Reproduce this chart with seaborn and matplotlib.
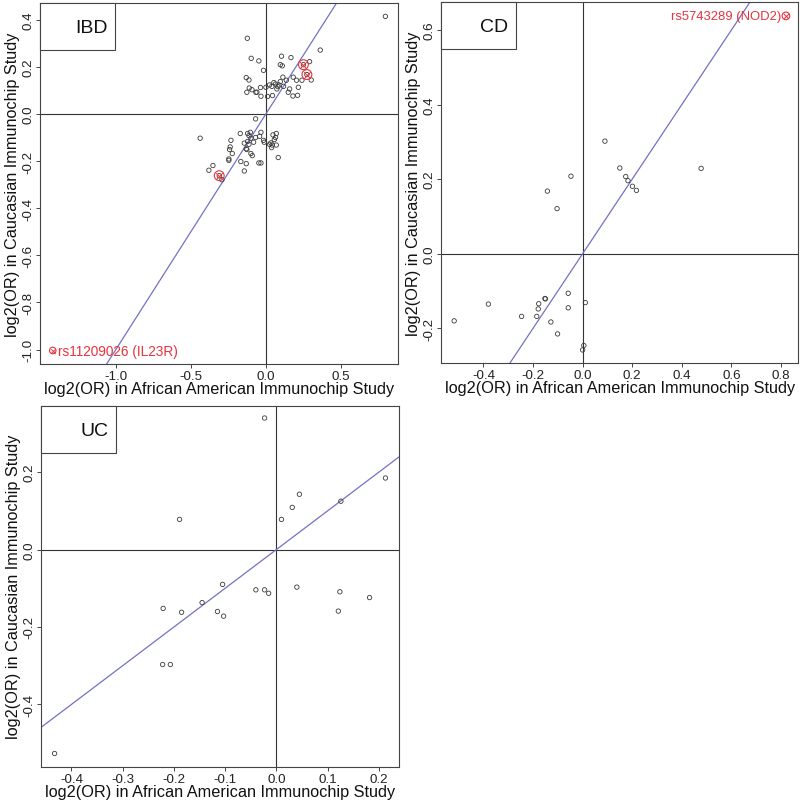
import matplotlib
matplotlib.use("Agg")
import matplotlib.pyplot as plt
from matplotlib.patches import Rectangle
import seaborn as sns
import pandas as pd

# IBD panel data (log2 OR, African American vs Caucasian)
ibd_x = [0.796, -0.124, 0.362, -0.098, -0.047, 0.104, 0.167, 0.291, 0.096, 0.109,
         -0.016, -0.131, -0.113, 0.182, 0.113, 0.204, 0.240, 0.302, 0.136, 0.096,
         0.053, 0.064, 0.024, 0.087, 0.080, 0.040, 0.000, -0.036, -0.111, -0.093,
         -0.127, -0.067, -0.060, 0.149, 0.158, 0.216, 0.044, 0.011, -0.033, 0.180,
         0.211, 0.073, 0.118, 0.250, 0.273,
         -0.438, -0.069, -0.171, -0.122, -0.104, -0.113, -0.100, -0.122, -0.144, -0.113,
         -0.069, -0.042, -0.033, -0.016, -0.011, 0.047, 0.069, 0.064, 0.056, 0.033,
         0.042, 0.038, 0.024, 0.069, 0.082, -0.233, -0.238, -0.242, -0.224, -0.247,
         -0.247, -0.167, -0.131, -0.144, -0.100, -0.091, -0.127, -0.047, -0.033, -0.353,
         -0.380, -0.293, -0.131, -0.082, -0.311]
ibd_y = [0.414, 0.321, 0.271, 0.236, 0.225, 0.245, 0.239, 0.222, 0.209, 0.204,
         0.185, 0.154, 0.144, 0.156, 0.156, 0.143, 0.143, 0.144, 0.143, 0.137,
         0.133, 0.127, 0.123, 0.123, 0.116, 0.117, 0.113, 0.112, 0.110, 0.103,
         0.092, 0.092, 0.092, 0.092, 0.106, 0.113, 0.078, 0.074, 0.075, 0.076,
         0.079, 0.106, 0.117, 0.209, 0.167,
         -0.103, -0.021, -0.083, -0.083, -0.078, -0.092, -0.103, -0.117, -0.124, -0.129,
         -0.100, -0.095, -0.078, -0.112, -0.120, -0.089, -0.083, -0.100, -0.109, -0.123,
         -0.132, -0.143, -0.129, -0.132, -0.185, -0.112, -0.140, -0.151, -0.168, -0.191,
         -0.197, -0.202, -0.211, -0.242, -0.168, -0.177, -0.151, -0.208, -0.208, -0.219,
         -0.239, -0.279, -0.148, -0.120, -0.262]
ibd_hl_x = [0.250, 0.273, -0.311]
ibd_hl_y = [0.209, 0.167, -0.262]
ibd_lab_x, ibd_lab_y, ibd_lab = -1.42, -1.004, "rs11209026 (IL23R)"

# CD panel data
cd_x = [0.090, 0.150, 0.478, 0.174, 0.183, 0.201, 0.217, -0.047, -0.142, -0.103,
        -0.518, -0.380, -0.246, -0.185, -0.179, -0.177, -0.152, -0.150, -0.128, -0.101,
        -0.058, -0.058, 0.011, 0.005, 0.000]
cd_y = [0.302, 0.230, 0.229, 0.207, 0.196, 0.181, 0.170, 0.208, 0.168, 0.121,
        -0.180, -0.135, -0.168, -0.168, -0.148, -0.134, -0.120, -0.121, -0.183, -0.215,
        -0.106, -0.145, -0.131, -0.246, -0.258]
cd_lab_x, cd_lab_y, cd_lab = 0.820, 0.638, "rs5743289 (NOD2)"

# UC panel data
uc_x = [-0.023, 0.213, 0.045, 0.031, 0.126, 0.010, -0.189, -0.105, -0.040, -0.023,
        -0.015, 0.040, 0.124, 0.182, 0.121, -0.145, -0.185, -0.221, -0.115, -0.103,
        -0.222, -0.207, -0.433]
uc_y = [0.340, 0.185, 0.143, 0.109, 0.125, 0.078, 0.078, -0.090, -0.104, -0.104,
        -0.113, -0.097, -0.109, -0.124, -0.159, -0.137, -0.162, -0.152, -0.160, -0.172,
        -0.297, -0.297, -0.527]

xlabel = "log2(OR) in African American Immunochip Study"
ylabel = "log2(OR) in Caucasian Immunochip Study"

sns.set_theme(style="ticks")
plt.rcParams["font.family"] = ["Liberation Sans", "DejaVu Sans"]
plt.rcParams["axes.unicode_minus"] = False

RED = "#e8323c"
LINE = "#7272c4"
EDGE = "#3a3a3a"

fig = plt.figure(figsize=(8, 8.03), dpi=100)


def panel(rect, x, y, name, xlim, ylim, xticks, yticks):
    ax = fig.add_axes(rect)
    df = pd.DataFrame({"x": x, "y": y})
    sns.scatterplot(data=df, x="x", y="y", ax=ax, marker="o", s=10,
                    facecolor="none", edgecolor=EDGE, linewidth=0.6, zorder=3)
    ax.axhline(0, color="#333333", lw=0.8, zorder=1)
    ax.axvline(0, color="#333333", lw=0.8, zorder=1)
    ax.axline((0, 0), slope=1, color=LINE, lw=0.9, zorder=2)
    ax.set_xlim(*xlim)
    ax.set_ylim(*ylim)
    ax.set_xticks(xticks)
    ax.set_xticklabels([f"{t:.1f}" for t in xticks])
    ax.set_yticks(yticks)
    ax.set_yticklabels([f"{t:.1f}" for t in yticks], rotation=90, va="center")
    ax.tick_params(length=3, width=0.7, pad=1.2, labelsize=9.6,
                   colors="#444444", labelcolor="#222222")
    for sp in ax.spines.values():
        sp.set_visible(True)
        sp.set_color("#444444")
        sp.set_linewidth(0.8)
    ax.set_xlabel(xlabel, fontsize=11.7, labelpad=-0.5, color="#111111")
    ax.set_ylabel(ylabel, fontsize=11.7, labelpad=1.5, color="#111111")
    # panel label box in the top-left corner
    ax.add_patch(Rectangle((0, 1 - 0.130), 0.210, 0.130, transform=ax.transAxes,
                           facecolor="white", edgecolor="#444444", lw=0.8,
                           clip_on=False, zorder=4))
    ax.text(0.188, 1 - 0.068, name, transform=ax.transAxes, ha="right",
            va="center", fontsize=14, color="#111111", zorder=5)
    return ax


def circle_x(ax, x, y, size):
    ax.scatter(x, y, s=size, marker="o", facecolor="none", edgecolor=RED,
               linewidth=0.8, zorder=4)
    ax.scatter(x, y, s=size * 0.45, marker="x", color=RED, linewidth=0.7, zorder=4)


ax1 = panel([0.050, 0.5455, 0.4475, 0.4496], ibd_x, ibd_y, "IBD",
            (-1.505, 0.88), (-1.061, 0.471),
            [-1.0, -0.5, 0.0, 0.5], [-1.0, -0.8, -0.6, -0.4, -0.2, 0.0, 0.2, 0.4])
circle_x(ax1, ibd_hl_x, ibd_hl_y, 50)
circle_x(ax1, [ibd_lab_x], [ibd_lab_y], 22)
ax1.text(ibd_lab_x + 0.035, ibd_lab_y, ibd_lab, color=RED, fontsize=9.8,
         ha="left", va="center", zorder=5)

ax2 = panel([0.5516, 0.5467, 0.4463, 0.4490], cd_x, cd_y, "CD",
            (-0.570, 0.870), (-0.293, 0.674),
            [-0.4, -0.2, 0.0, 0.2, 0.4, 0.6, 0.8], [-0.2, 0.0, 0.2, 0.4, 0.6])
circle_x(ax2, [cd_lab_x], [cd_lab_y], 30)
ax2.text(cd_lab_x - 0.017, cd_lab_y, cd_lab, color=RED, fontsize=9.4,
         ha="right", va="center", zorder=5)

ax3 = panel([0.0516, 0.0440, 0.4471, 0.4496], uc_x, uc_y, "UC",
            (-0.459, 0.2394), (-0.561, 0.372),
            [-0.4, -0.3, -0.2, -0.1, 0.0, 0.1, 0.2], [-0.4, -0.2, 0.0, 0.2])

fig.savefig("out.png", dpi=100)
